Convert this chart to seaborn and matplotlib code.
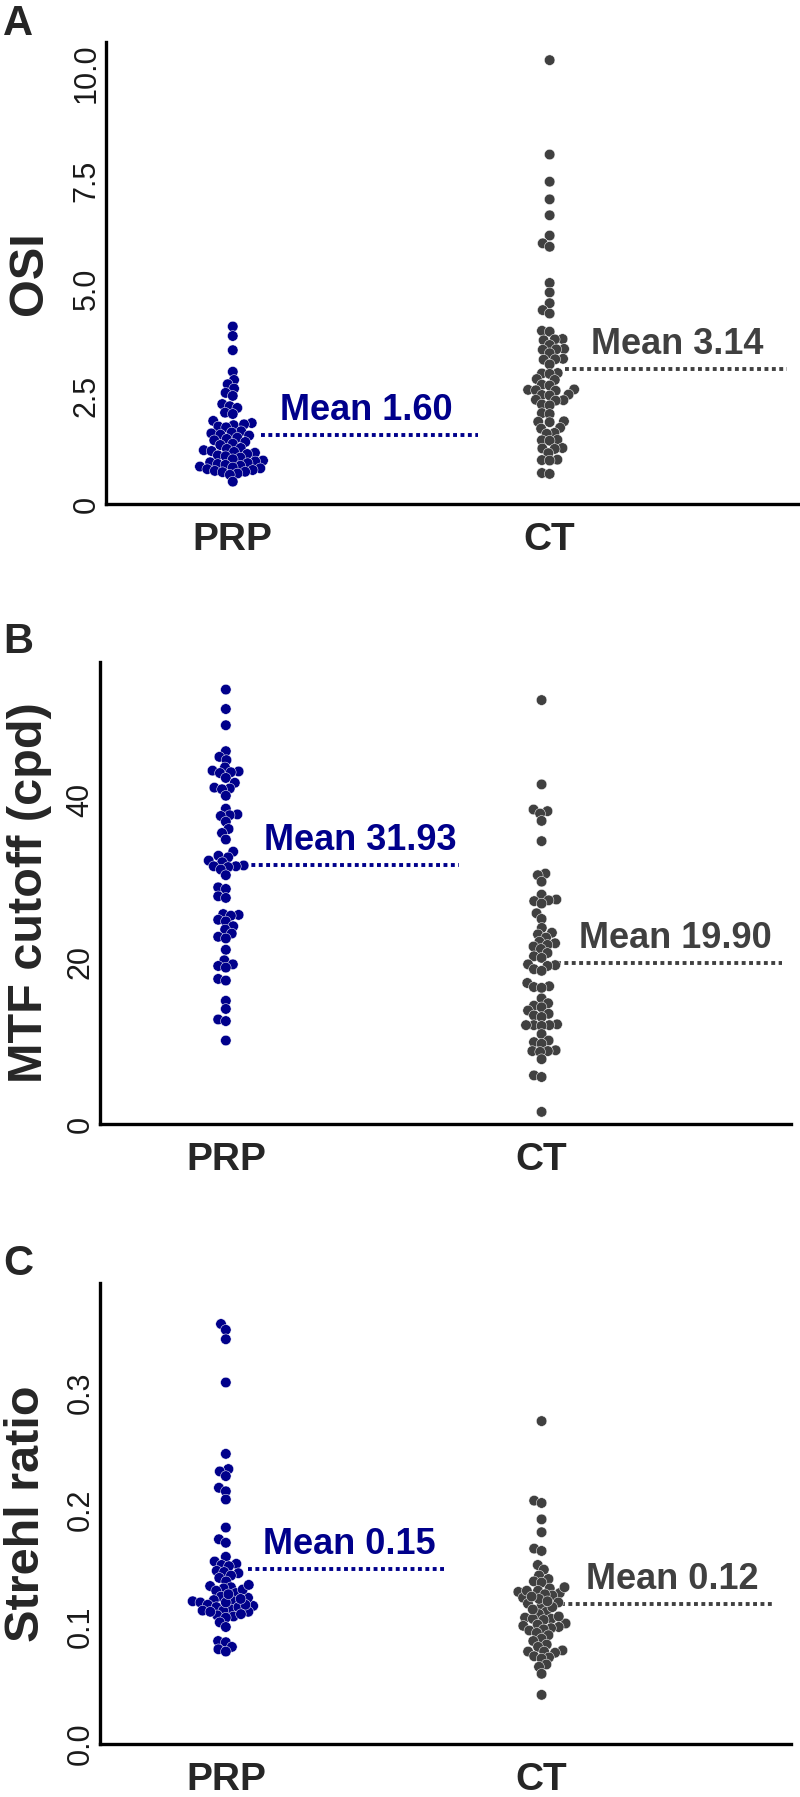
import matplotlib
matplotlib.use("Agg")
import matplotlib.pyplot as plt
import pandas as pd
import seaborn as sns

# Grupos y colores
groups = ["PRP", "CT"]
palette = {"PRP": "#00008b", "CT": "#404040"}

# Panel A: OSI
osi_prp = [4.12, 3.90, 3.57, 3.07, 2.88, 2.78, 2.68, 2.58, 2.51, 2.32, 2.27, 2.23, 2.12, 2.09, 1.93,
           1.88, 1.85, 1.83, 1.80, 1.78, 1.69, 1.66, 1.64, 1.61, 1.59, 1.54, 1.51, 1.48,
           1.44, 1.40, 1.37, 1.30, 1.28, 1.25, 1.23, 1.21, 1.19, 1.16, 1.13, 1.11, 1.08,
           1.04, 1.01, 0.99, 0.97, 0.95, 0.93, 0.91, 0.89, 0.87, 0.85, 0.83,
           0.81, 0.79, 0.77, 0.75, 0.74, 0.71, 0.68, 0.52]
osi_ct = [10.30, 8.11, 7.48, 7.07, 6.70, 6.23, 6.05, 5.97, 5.13, 4.91, 4.66, 4.50, 4.42,
          4.02, 4.00, 3.83, 3.82, 3.80, 3.69, 3.60, 3.59, 3.58, 3.50, 3.37, 3.36, 3.35, 3.24,
          3.04, 3.03, 3.02, 2.90, 2.88, 2.77, 2.75, 2.66, 2.65, 2.64, 2.63, 2.54, 2.53, 2.52,
          2.42, 2.41, 2.40, 2.31, 2.29, 2.11, 2.09, 1.92, 1.91, 1.90, 1.77, 1.75, 1.65, 1.63,
          1.49, 1.48, 1.47, 1.30, 1.29, 1.28, 1.18, 1.03, 1.02, 1.01, 0.72, 0.70]
osi_means = [1.60, 3.14]

# Panel B: MTF cutoff
mtf_prp = [53.6, 51.2, 49.2, 46.0, 45.3, 44.9, 44.0, 43.6, 43.5, 43.4, 43.3, 42.7, 42.1, 41.5,
           41.4, 41.3, 40.5, 38.9, 38.2, 38.1, 38.0, 37.3, 36.4, 35.9, 35.1, 33.6, 33.1, 32.9,
           32.5, 32.3, 31.9, 31.8, 31.8, 31.7, 31.4, 30.7, 29.2, 29.0, 28.1, 27.9, 25.9, 25.8,
           25.7, 25.2, 25.0, 24.4, 24.0, 23.5, 23.1, 22.9, 21.5, 20.2, 19.7, 19.5, 19.3, 17.9,
           17.7, 15.2, 14.2, 12.9, 12.7, 10.3]
mtf_ct = [52.3, 41.9, 38.8, 38.6, 38.3, 37.4, 34.9, 30.9, 30.7, 29.9, 28.3, 27.7, 27.6, 27.5,
          27.2, 26.0, 25.3, 24.2, 23.6, 23.4, 23.0, 22.5, 22.3, 22.1, 21.9, 21.6, 21.1, 20.7,
          20.5, 19.7, 19.6, 19.5, 19.1, 18.9, 17.4, 17.0, 16.9, 16.8, 15.5, 14.9, 14.6, 14.4,
          14.0, 13.6, 13.4, 13.2, 12.3, 12.2, 12.2, 12.1, 12.2, 11.1, 10.3, 10.1, 9.9, 9.1,
          9.0, 9.0, 8.9, 8.0, 6.0, 5.8, 1.5]
mtf_means = [31.93, 19.90]

# Panel C: Strehl ratio
strehl_prp = [0.359, 0.354, 0.346, 0.309, 0.248, 0.235, 0.233, 0.229, 0.219, 0.216, 0.209,
              0.185, 0.175, 0.172, 0.160, 0.156, 0.154, 0.153, 0.152, 0.148, 0.147, 0.146,
              0.144, 0.142, 0.139, 0.135, 0.134, 0.133, 0.131, 0.129, 0.126, 0.123, 0.122,
              0.122, 0.121, 0.119, 0.118, 0.117, 0.115, 0.114, 0.114, 0.113, 0.110, 0.109,
              0.108, 0.104, 0.100, 0.088, 0.087, 0.083, 0.081, 0.079, 0.125, 0.121, 0.117,
              0.113, 0.128, 0.132, 0.119, 0.111, 0.124, 0.136]
strehl_ct = [0.276, 0.208, 0.206, 0.192, 0.181, 0.167, 0.165, 0.153, 0.149, 0.144, 0.141,
             0.139, 0.138, 0.133, 0.131, 0.130, 0.129, 0.127, 0.125, 0.120, 0.118, 0.113,
             0.111, 0.108, 0.107, 0.107, 0.106, 0.103, 0.102, 0.101, 0.100, 0.099, 0.098,
             0.097, 0.095, 0.093, 0.090, 0.088, 0.085, 0.083, 0.080, 0.079, 0.079, 0.078,
             0.075, 0.074, 0.073, 0.068, 0.066, 0.060, 0.042, 0.128, 0.124, 0.131, 0.121,
             0.117, 0.109, 0.126, 0.134, 0.115, 0.122]
strehl_means = [0.15, 0.12]

panels = [
    dict(letter="A", ylabel="OSI", prp=osi_prp, ct=osi_ct, means=osi_means,
         ylim=10.72, ticks=[0, 2.5, 5.0, 7.5, 10.0], ticklabels=["0", "2.5", "5.0", "7.5", "10.0"],
         rect=[0.1325, 0.7195, 0.8675, 0.2571], letter_y=1 - 4 / 1797, label_x=-0.078,
         lines=[(0.09, 0.775, 0.15), (1.05, 1.75, 1.13)]),
    dict(letter="B", ylabel="MTF cutoff (cpd)", prp=mtf_prp, ct=mtf_ct, means=mtf_means,
         ylim=57, ticks=[0, 20, 40], ticklabels=["0", "20", "40"],
         rect=[0.1244, 0.3745, 0.8644, 0.2571], letter_y=1 - 622 / 1797, label_x=-0.069,
         lines=[(0.057, 0.74, 0.12), (1.05, 1.76, 1.12)]),
    dict(letter="C", ylabel="Strehl ratio", prp=strehl_prp, ct=strehl_ct, means=strehl_means,
         ylim=0.394, ticks=[0.0, 0.1, 0.2, 0.3], ticklabels=["0.0", "0.1", "0.2", "0.3"],
         rect=[0.1244, 0.0295, 0.8644, 0.2565], letter_y=1 - 1244 / 1797, label_x=-0.073,
         lines=[(0.07, 0.69, 0.117), (1.06, 1.73, 1.14)]),
]

sns.set_style("white")
plt.rcParams["font.family"] = ["Liberation Sans", "DejaVu Sans"]

fig = plt.figure(figsize=(8, 17.97), dpi=100)

for p in panels:
    ax = fig.add_axes(p["rect"])
    df = pd.DataFrame({
        "group": ["PRP"] * len(p["prp"]) + ["CT"] * len(p["ct"]),
        "value": p["prp"] + p["ct"],
    })
    sns.swarmplot(data=df, x="group", y="value", hue="group", order=groups,
                  palette=palette, size=5.0, edgecolor="white", linewidth=0.35,
                  legend=False, ax=ax)

    # lineas de media con etiqueta
    for g, mean, (x0, x1, xt) in zip(groups, p["means"], p["lines"]):
        ax.plot([x0, x1], [mean, mean], color=palette[g], lw=2.8, dashes=(1, 0.9))
        ax.annotate(f"Mean {mean:.2f}", xy=(xt, mean), xytext=(0, 5),
                    textcoords="offset points", ha="left", va="bottom",
                    fontsize=26, fontweight="bold", color=palette[g])

    ax.set_xlim(-0.4, 1.79)
    ax.set_ylim(0, p["ylim"])
    ax.set_yticks(p["ticks"])
    ax.set_yticklabels(p["ticklabels"])
    ax.set_xlabel("")
    ax.set_ylabel(p["ylabel"], fontsize=35, fontweight="bold")
    ax.yaxis.set_label_coords(p["label_x"], 0.5)

    sns.despine(ax=ax)
    for side in ["left", "bottom"]:
        ax.spines[side].set_linewidth(2.4)
        ax.spines[side].set_color("black")

    ax.tick_params(axis="y", length=0, pad=3, labelsize=22, labelrotation=90,
                   labelcolor="#1a1a1a")
    for lab in ax.get_yticklabels():
        lab.set_va("center")
    ax.tick_params(axis="x", length=5, width=2, pad=8, labelsize=28, color="black")
    for lab in ax.get_xticklabels():
        lab.set_fontweight("bold")

    fig.text(0.004, p["letter_y"], p["letter"], fontsize=30, fontweight="bold",
             ha="left", va="top")

# fijar posiciones del enjambre y luego agrandar los puntos (se solapan como en el original)
fig.canvas.draw()
for ax in fig.axes:
    for coll in ax.collections:
        if "draw" in coll.__dict__:
            del coll.__dict__["draw"]
        coll.set_sizes([7.6 ** 2])

fig.savefig("out.png", dpi=100)
